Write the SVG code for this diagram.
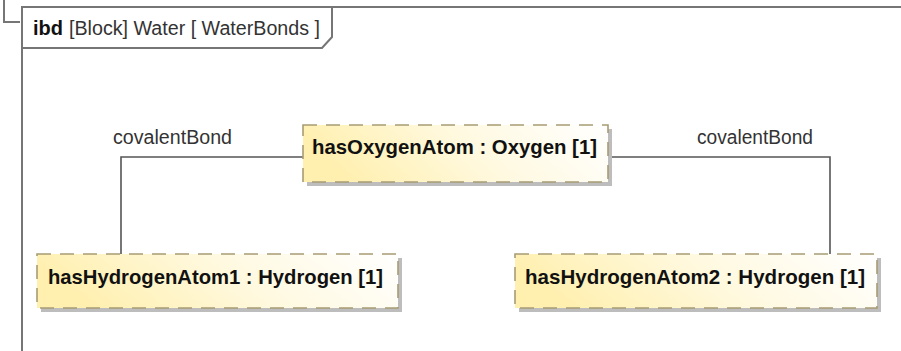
<svg xmlns="http://www.w3.org/2000/svg" width="901" height="351" viewBox="0 0 901 351">
  <defs>
    <linearGradient id="partFill" x1="0" y1="0.2" x2="1" y2="0">
      <stop offset="0" stop-color="#fff0b0"/>
      <stop offset="0.5" stop-color="#fff9e0"/>
      <stop offset="1" stop-color="#ffffff"/>
    </linearGradient>
    <style>
      .frame { fill: none; stroke: #767676; stroke-width: 2; }
      .shadow { fill: #bdbdbd; }
      .part { fill: url(#partFill); stroke: #a89c74; stroke-width: 1.6; stroke-dasharray: 14 9; }
      .partText { font-family: "Liberation Sans", Arial, sans-serif; font-weight: bold; font-size: 21px; fill: #111; }
      .label { font-family: "Liberation Sans", Arial, sans-serif; font-size: 20px; fill: #333; }
      .title { font-family: "Liberation Sans", Arial, sans-serif; font-size: 20px; fill: #333; }
      .kind { font-family: "Liberation Sans", Arial, sans-serif; font-size: 21px; font-weight: bold; fill: #111; }
      .bond { fill: none; stroke: #555; stroke-width: 1.6; }
    </style>
  </defs>
  <rect width="901" height="351" fill="#ffffff"/>

  <!-- diagram frame -->
  <g id="frame">
    <polyline class="frame" points="4,0 4,22 20,22"/>
    <polyline class="frame" points="901,7 22,7 22,351"/>
    <polyline class="frame" points="22,48 322,48 332,37 332,7"/>
    <text class="kind" x="33" y="35" textLength="30" lengthAdjust="spacingAndGlyphs">ibd</text>
    <text class="title" x="69" y="35" textLength="251" lengthAdjust="spacingAndGlyphs">[Block] Water [ WaterBonds ]</text>
  </g>

  <!-- connectors -->
  <g id="connectors">
    <polyline class="bond" points="303,157 121,157 121,254"/>
    <polyline class="bond" points="612,157 830,157 830,254"/>
    <text class="label" x="113" y="144" textLength="119" lengthAdjust="spacingAndGlyphs">covalentBond</text>
    <text class="label" x="697" y="144" textLength="116" lengthAdjust="spacingAndGlyphs">covalentBond</text>
  </g>

  <!-- part properties -->
  <g id="hasOxygenAtom">
    <rect class="shadow" x="307" y="129" width="305" height="57"/>
    <rect class="part" x="303" y="125" width="305" height="57"/>
    <text class="partText" x="312" y="154" textLength="285" lengthAdjust="spacingAndGlyphs">hasOxygenAtom : Oxygen [1]</text>
  </g>

  <g id="hasHydrogenAtom1">
    <rect class="shadow" x="41" y="258" width="361" height="54"/>
    <rect class="part" x="37" y="254" width="361" height="54"/>
    <text class="partText" x="48" y="284" textLength="335" lengthAdjust="spacingAndGlyphs">hasHydrogenAtom1 : Hydrogen [1]</text>
  </g>

  <g id="hasHydrogenAtom2">
    <rect class="shadow" x="519" y="258" width="362" height="54"/>
    <rect class="part" x="515" y="254" width="362" height="54"/>
    <text class="partText" x="525" y="284" textLength="340" lengthAdjust="spacingAndGlyphs">hasHydrogenAtom2 : Hydrogen [1]</text>
  </g>
</svg>
